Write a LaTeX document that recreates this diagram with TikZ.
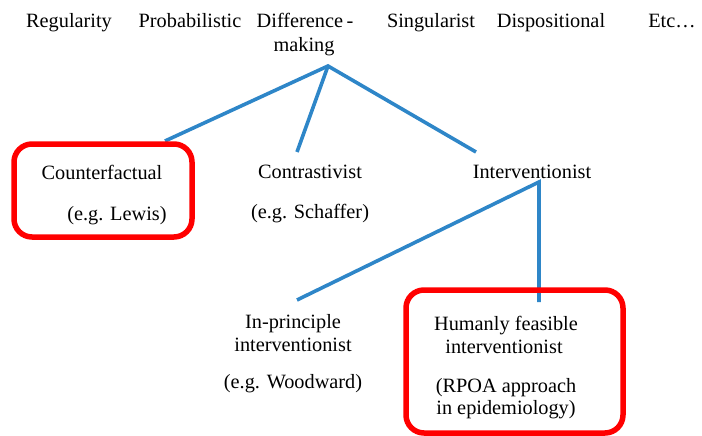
\documentclass[tikz,border=0pt]{standalone}
\usepackage{fontspec}
\setmainfont{Liberation Serif}
\begin{document}
\begin{tikzpicture}[x=1pt,y=-1pt,
  lbl/.style={font=\fontsize{20.3}{24}\selectfont, inner sep=0pt, anchor=base},
  branch/.style={draw={rgb,255:red,46;green,134;blue,200}, line width=3.6pt},
  hilite/.style={draw={rgb,255:red,255;green,0;blue,0}, line width=5.5pt, rounded corners=18pt}]
\useasboundingbox (0,0) rectangle (702,436);

% top row of theories of causation (placed by baseline)
\node[lbl] (reg)  at (69,28)  {Regularity};
\node[lbl] (prob) at (190,28) {Probabilistic};
\node[lbl] (diff) at (305,28) {Difference\,-};
\node[lbl] (mak)  at (304,52) {making};
\node[lbl] (sing) at (431,28) {Singularist};
\node[lbl] (disp) at (551,28) {Dispositional};
\node[lbl] (etc)  at (672,28) {Etc…};

% second level
\node[lbl] (cf)   at (102,179) {Counterfactual};
\node[lbl] (cfx)  at (117,220) {(e.g. Lewis)};
\node[lbl] (con)  at (310,178) {Contrastivist};
\node[lbl] (conx) at (310,218) {(e.g. Schaffer)};
\node[lbl] (int)  at (532,178) {Interventionist};

% third level
\node[lbl] (ip1)  at (293,328) {In-principle};
\node[lbl] (ip2)  at (293,351) {interventionist};
\node[lbl] (ipx)  at (293,388) {(e.g. Woodward)};
\node[lbl] (hf1)  at (506,330) {Humanly feasible};
\node[lbl] (hf2)  at (504,353) {interventionist};
\node[lbl] (hfx1) at (506,392) {(RPOA approach};
\node[lbl] (hfx2) at (506,414) {in epidemiology)};

% branching points
\coordinate (top)  at (328,66);
\coordinate (cfin) at (165,141);
\coordinate (coin) at (297,152);
\coordinate (inin) at (476,152);
\coordinate (fork) at (539,182);
\coordinate (ipin) at (297,300);
\coordinate (hfin) at (539,302);

\draw[branch] (cfin) -- (top) -- (inin);
\draw[branch] (top) -- (coin);
\draw[branch] (ipin) -- (fork) -- (hfin);

% highlighted boxes
\draw[hilite] (14,144) rectangle (192,237);
\draw[hilite] (406,290) rectangle (623,433);
\end{tikzpicture}
\end{document}
